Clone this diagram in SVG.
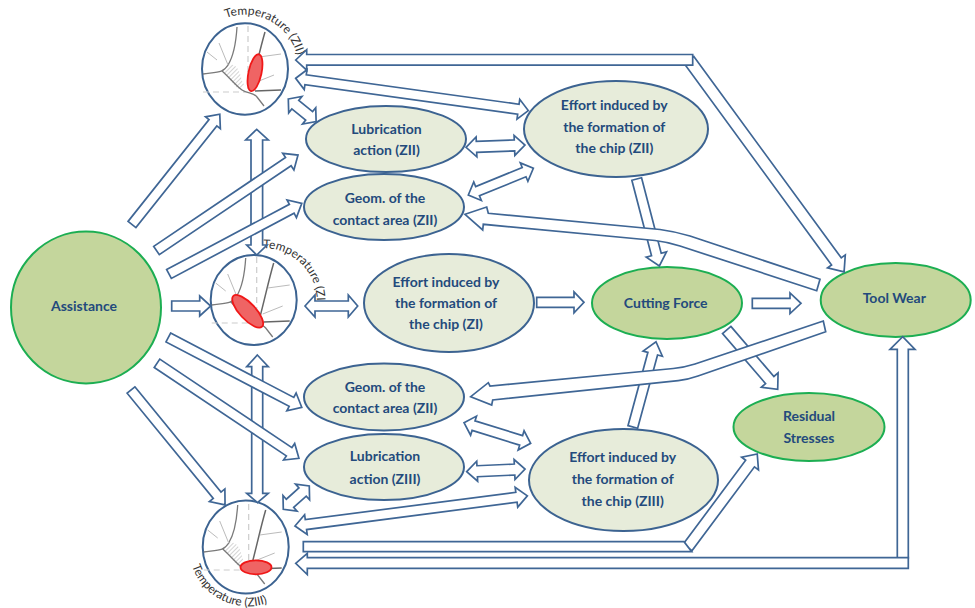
<svg xmlns="http://www.w3.org/2000/svg" xmlns:xlink="http://www.w3.org/1999/xlink" width="975" height="608" viewBox="0 0 975 608">
<style>
.l{fill:#e7ecda;stroke:#3c6391;stroke-width:2}
.g{fill:#c4d69c;stroke:#1cae52;stroke-width:2}
.c{fill:#fff;stroke:#3c6391;stroke-width:2}
.t{font-family:Lato,"Liberation Sans",sans-serif;font-weight:700;font-size:14px;fill:#234a7c;text-anchor:middle}
.a{font-family:Lato,"Liberation Sans",sans-serif;font-size:12px;fill:#333}
#connectors path{fill:#fff;stroke:#3f6695;stroke-width:1.7;stroke-linejoin:miter}
.k{fill:none;stroke:#7a7a7a;stroke-width:1.3}
.d{fill:none;stroke:#666;stroke-width:1.5}
.h{fill:none;stroke:#ccc;stroke-width:1.2;stroke-dasharray:6 4}
.s{fill:none;stroke:#bbb;stroke-width:1}
.r{fill:#ef6464;stroke:#f01818;stroke-width:1.8}
</style>
<defs>
<pattern id="hatch" width="3" height="3" patternUnits="userSpaceOnUse" patternTransform="rotate(45)"><path d="M0 0V3" stroke="#aaa" stroke-width="1"/></pattern>
<g id="sketch">
<path d="M3-43V20M-42 23H0" class="h"/>
<path d="M-17-4C-10-6-6 0-4 8S-2 14 1 16L-7 20-23 2Z" fill="url(#hatch)"/>
<path d="M-8-42C-9-26-12-12-17-4S-26 3-42 5" class="k"/>
<path d="M-23 2C-16 8-9 17-3 21S8 23 12 28L19 37" class="k"/>
<path d="M20-37C15-20 12-5 6 18" class="d"/>
<path d="M10 22 36 21" class="d"/>
<path d="M-26-26-17-4M-38-17-28-9M14-12 36-15M9 14 29 6" class="s"/>
</g>
</defs>
<rect width="975" height="608" fill="#fff"/>
<g id="assistance"><ellipse class="g" cx="86" cy="307.500" rx="75" ry="76"/><text class="t" x="84" y="310.500">Assistance</text></g>
<g id="temp-zii"><ellipse class="c" cx="245" cy="69" rx="43" ry="45.700"/><use xlink:href="#sketch" href="#sketch" x="245" y="69"/><ellipse class="r" cx="255" cy="72.700" rx="6.500" ry="18.800" transform="rotate(12 255 72.700)"/><path id="p1" d="M226 18A54 54 0 0 1 298 60" fill="none"/><text class="a"><textPath href="#p1" xlink:href="#p1">Temperature (ZII)</textPath></text></g>
<g id="temp-zi"><ellipse class="c" cx="253.700" cy="300" rx="43" ry="45"/><use xlink:href="#sketch" href="#sketch" x="253.700" y="300"/><ellipse class="r" cx="247.700" cy="311.300" rx="21" ry="8" transform="rotate(47 247.700 311.300)"/><path id="p2" d="M263 248A54 54 0 0 1 317 302" fill="none"/><text class="a"><textPath href="#p2" xlink:href="#p2">Temperature (ZI)</textPath></text></g>
<g id="temp-ziii"><ellipse class="c" cx="245.700" cy="547" rx="43" ry="46.500"/><use xlink:href="#sketch" href="#sketch" x="245.700" y="547"/><ellipse class="r" cx="256" cy="567.300" rx="15.500" ry="7"/><path id="p3" d="M192 566A59 59 0 0 0 270 602" fill="none"/><text class="a"><textPath href="#p3" xlink:href="#p3">Temperature (ZIII)</textPath></text></g>
<g id="lub-zii"><ellipse class="l" cx="386" cy="139" rx="80" ry="33"/><text class="t" x="386.500" y="133.500">Lubrication</text><text class="t" x="386.500" y="155">action (ZII)</text></g>
<g id="geom-zii-a"><ellipse class="l" cx="384" cy="207" rx="80" ry="33"/><text class="t" x="385" y="203.300">Geom. of the</text><text class="t" x="385" y="225">contact area (ZII)</text></g>
<g id="effort-zii"><ellipse class="l" cx="616" cy="129" rx="92" ry="48"/><text class="t" x="614.300" y="110">Effort induced by</text><text class="t" x="614.300" y="131.700">the formation of</text><text class="t" x="614.300" y="153.300">the chip (ZII)</text></g>
<g id="effort-zi"><ellipse class="l" cx="449" cy="303" rx="85" ry="49"/><text class="t" x="446" y="287">Effort induced by</text><text class="t" x="446" y="308">the formation of</text><text class="t" x="446" y="329">the chip (ZI)</text></g>
<g id="cutting-force"><ellipse class="g" cx="667" cy="303" rx="75" ry="36"/><text class="t" x="665.700" y="307.700">Cutting Force</text></g>
<g id="tool-wear"><ellipse class="g" cx="895.700" cy="300" rx="75" ry="37"/><text class="t" x="894.300" y="303.300">Tool Wear</text></g>
<g id="residual"><ellipse class="g" cx="809" cy="427" rx="75.500" ry="34"/><text class="t" x="809" y="421">Residual</text><text class="t" x="809" y="442.700">Stresses</text></g>
<g id="geom-zii-b"><ellipse class="l" cx="384" cy="397" rx="80" ry="33.500"/><text class="t" x="385" y="391.500">Geom. of the</text><text class="t" x="385" y="413">contact area (ZII)</text></g>
<g id="lub-ziii"><ellipse class="l" cx="384" cy="467" rx="80" ry="33"/><text class="t" x="385" y="461">Lubrication</text><text class="t" x="385" y="483.500">action (ZIII)</text></g>
<g id="effort-ziii"><ellipse class="l" cx="623.500" cy="480" rx="94.500" ry="51"/><text class="t" x="622.700" y="462.300">Effort induced by</text><text class="t" x="622.700" y="484">the formation of</text><text class="t" x="622.700" y="505.700">the chip (ZIII)</text></g>
<g id="connectors">
<path d="M256.700 129.300 268.300 140H262.600V245H267L256.700 255 246.700 245H251V140H245.700Z"/>
<path d="M257.300 355 268.300 366.700H262.700V493.300H268.300L257.500 502.700 246.700 493.300H251.700V366.700H246.700Z"/>
<path transform="translate(132 224.500) rotate(-51.500)" d="M0-5H130V-9.500L141 0 130 9.500V5H0Z"/>
<path transform="translate(156.500 250.500) rotate(-34)" d="M0-5H159V-10L170.700 0 159 10V5H0Z"/>
<path transform="translate(169 274) rotate(-28)" d="M0-5H139V-10L150.400 0 139 10V5H0Z"/>
<path transform="translate(171.700 306)" d="M0-5H28V-10L39 0 28 10V5H0Z"/>
<path transform="translate(168.300 337.500) rotate(27.600)" d="M0-5H139V-10L150.600 0 139 10V5H0Z"/>
<path transform="translate(157 363.300) rotate(33.800)" d="M0-5H159V-10L170.800 0 159 10V5H0Z"/>
<path transform="translate(131 390) rotate(50.700)" d="M0-5H136V-10L148.500 0 136 10V5H0Z"/>
<path transform="translate(288.300 99) rotate(39)" d="M0 0 9-10.500V-5.500H26.800V-10.500L35.800 0 26.800 10.500V5.500H9V10.500Z"/>
<path transform="translate(295.700 78.300) rotate(7.900)" d="M0 0 10-10V-5H224.800V-10L234.800 0 224.800 10V5H10V10Z"/>
<path transform="translate(466 147.300) rotate(-2.200)" d="M0 0 10.500-10V-5.500H48.500V-10L59 0 48.500 10V5.500H10.500V10Z"/>
<path transform="translate(468.300 195) rotate(-22.300)" d="M0 0 10-10V-5H60.300V-10L70.300 0 60.300 10V5H10V10Z"/>
<path transform="translate(636.700 179) rotate(75.400)" d="M0-5H78V-10.500L89.900 0 78 10.500V5H0Z"/>
<path transform="translate(632.800 427) rotate(-74.800)" d="M0-5H76V-10L88.400 0 76 10V5H0Z"/>
<path transform="translate(726.700 330) rotate(49.300)" d="M0-5.500H66V-11L78.200 0 66 11V5.500H0Z"/>
<path d="M820 279.300 690 236Q675 231.500 660 229.500L488.300 213.300 486.700 207 465 214.300 482.700 230 483.300 224.300 655 240.500Q668 242 680 246L816.700 290.700Z"/>
<path d="M823.300 321 695 364Q684 367.500 673.300 368.500L490 386 488.300 382.700 470.700 396.700 491.700 405 492.700 400 678.300 380.700Q688 379.500 698 376L825.700 331.700Z"/>
<path transform="translate(536.700 302.300)" d="M0-5H37.300V-10.500L47.300 0 37.300 10.500V5H0Z"/>
<path transform="translate(752.300 303.300)" d="M0-5H37.700V-10.300L48.700 0 37.700 10.300V5H0Z"/>
<path transform="translate(305 306)" d="M0 0 10-11V-5H43.300V-11L52.700 0 43.300 11V5H10V11Z"/>
<path transform="translate(464 422.700) rotate(17.200)" d="M0 0 10-10V-5H59.800V-10L69.800 0 59.800 10V5H10V10Z"/>
<path transform="translate(466.700 471.700) rotate(-2.600)" d="M0 0 10.500-10V-5.500H47.900V-10L58.400 0 47.900 10V5.500H10.500V10Z"/>
<path transform="translate(295 526) rotate(-7.400)" d="M0 0 11-10V-5H223.300V-10L234.300 0 223.300 10V5H11V10Z"/>
<path transform="translate(283.300 509.300) rotate(-41.900)" d="M0 0 9-10.500V-5.500H25.900V-10.500L34.900 0 25.900 10.500V5.500H9V10.500Z"/>
<path transform="translate(689 60) rotate(53.800)" d="M0-6H249.600V-11L262.600 0 249.600 11V6H0Z"/>
<path d="M295.700 60 306.700 49.700V54.500H692.700V65.200H306.700V70.200Z"/>
<path transform="translate(687.500 547.500) rotate(-53.300)" d="M0-5.500H104.700V-10.500L116.700 0 104.700 10.500V5.500H0Z"/>
<path d="M303.300 541.700H684L691.700 551.700H303.300Z"/>
<path d="M897.300 558V349.300H890L902.700 336.700 915 349.300H908.300V558Z"/>
<path d="M295.700 563.300 307.300 553.300V557.700H908.300V568.300H307.300V574.500Z"/>
</g>
</svg>
